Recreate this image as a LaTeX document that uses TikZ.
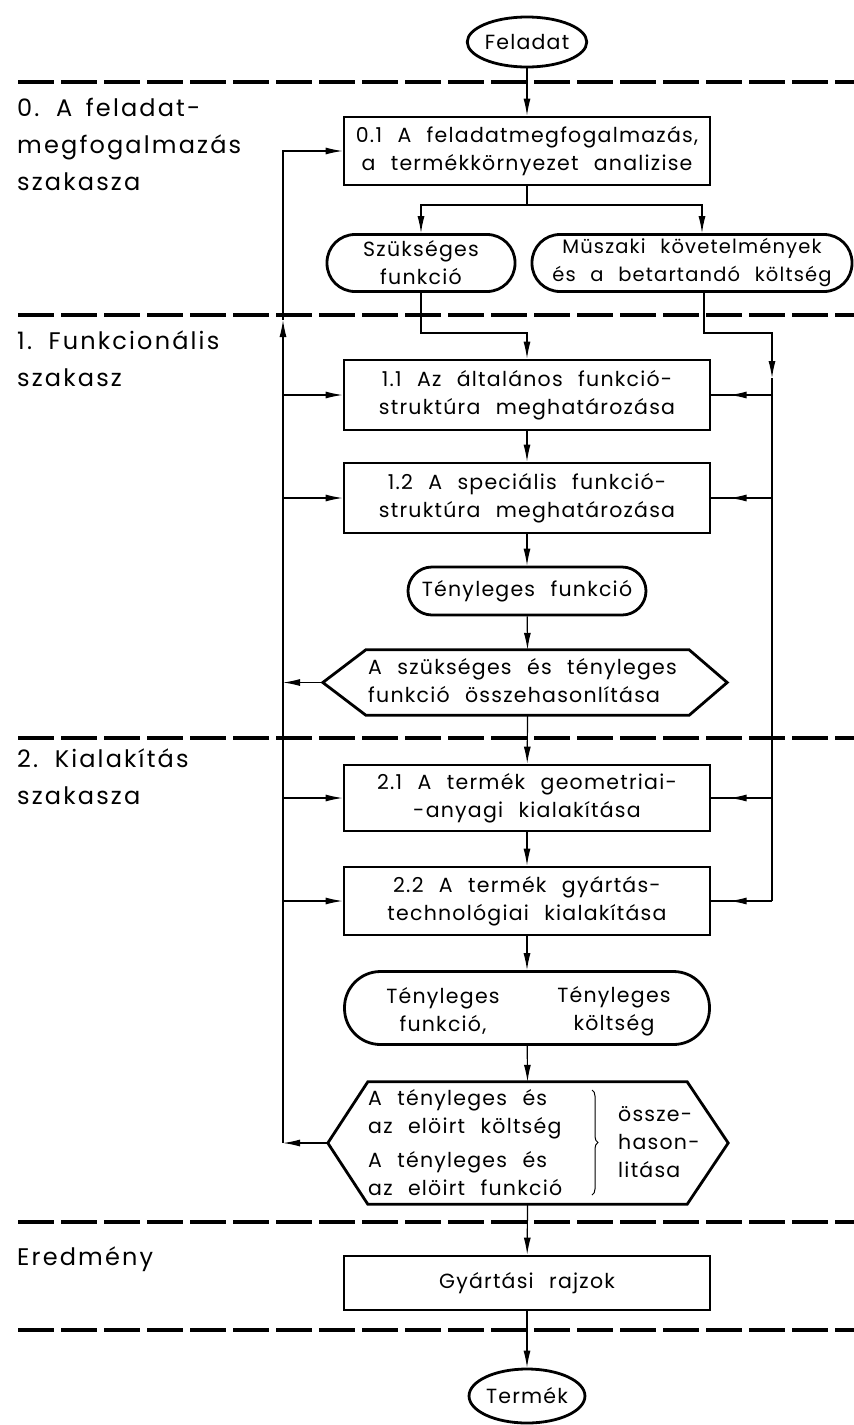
\documentclass[tikz,border=0pt]{standalone}
\usepackage{fontspec}
\setmainfont{Poppins}[LetterSpace=6,WordSpace=2.3]
\newfontfamily\lblfam{Poppins}[LetterSpace=9,WordSpace=1.6]
\usetikzlibrary{arrows.meta,decorations.pathreplacing,decorations.markings,shapes.geometric}
\newcommand\bxfont{\fontsize{20.5}{28}\selectfont}
\newcommand\lbfont{\lblfam\fontsize{24}{37}\selectfont}
\begin{document}
\begin{tikzpicture}[x=1pt,y=-1pt,
  conn/.style={line width=1.2pt},
  arr/.style={conn,-{Latex[length=17pt,width=7pt]}},
  midarr/.style={conn,postaction={decorate},decoration={markings,mark=at position 0.7 with {\arrow{Latex[length=17pt,width=7pt]}}}},
  boxs/.style={draw,line width=2.8pt,minimum width=366pt,inner sep=0pt,align=center,font=\bxfont},
  pills/.style={draw,line width=2.8pt,inner sep=0pt,align=center,font=\bxfont},
  ovals/.style={draw,ellipse,line width=2.8pt,inner sep=0pt,font=\bxfont},
  hexs/.style={inner sep=0pt},
  outl/.style={line width=2.8pt,line join=miter},
  sep/.style={line width=3.6pt,dash pattern=on 36pt off 7pt},
  lab/.style={anchor=north west,inner sep=0pt,align=left,font=\lbfont},
  txt/.style={inner sep=0pt,align=left,font=\bxfont},
]
\useasboundingbox (0,0) rectangle (854,1425);

% separators
\foreach \yy in {82,315,738,1222,1330}{\draw[sep] (18,\yy) -- (854,\yy);}

% phase labels
\node[lab] (lab0) at (17,98) {0. A feladat-\\megfogalmazás\\szakasza};
\node[lab] (lab1) at (17,331) {1. Funkcionális\\szakasz};
\node[lab] (lab2) at (17,749) {2. Kialakítás\\szakasza};
\node[lab] (lab3) at (17,1247) {Eredmény};

% nodes
\node[ovals,minimum width=108pt,minimum height=50pt] (feladat) at (527,42) {Feladat};
\node[boxs,minimum height=68pt] (box01) at (527,151) {0.1 A feladatmegfogalmazás,\\a termékkörnyezet analizise};
\node[pills,minimum width=188pt,minimum height=57pt,rounded corners=28pt] (szuk) at (421,263) {Szükséges\\funkció};
\node[pills,minimum width=320pt,minimum height=57pt,rounded corners=28pt,font=\fontsize{19.5}{28}\selectfont] (musz) at (692,263) {Müszaki követelmények\\és a betartandó költség};
\node[boxs,minimum height=70pt] (box11) at (527,395) {1.1 Az általános funkció-\\struktúra meghatározása};
\node[boxs,minimum height=70pt] (box12) at (527,498) {1.2 A speciális funkció-\\struktúra meghatározása};
\node[pills,minimum width=238pt,minimum height=48pt,rounded corners=24pt] (tf) at (527,591) {Tényleges funkció};
\node[hexs,minimum width=323pt,minimum height=65pt] (hex1) at (527.5,682.5) {};
\node[txt,anchor=west] (hex1t) at (368,681) {A szükséges és tényleges\\funkció összehasonlítása};
\node[boxs,minimum height=66pt] (box21) at (527,798) {2.1 A termék geometriai-\\-anyagi kialakítása};
\node[boxs,minimum height=68pt] (box22) at (527,901) {2.2 A termék gyártás-\\technológiai kialakítása};
\node[pills,minimum width=365pt,minimum height=73pt,rounded corners=36pt] (pill2) at (527,1008) {};
\node[txt,align=center] (p2a) at (443,1011) {Tényleges\\funkció,};
\node[txt,align=center] (p2b) at (614,1011) {Tényleges\\költség};
\node[hexs,minimum width=319pt,minimum height=122pt] (hex2) at (527.5,1143) {};
\node[txt,anchor=west] (hex2t) at (368,1143) {A tényleges és\\az elöirt költség\\[6pt]A tényleges és\\az elöirt funkció};
\node[txt,anchor=west] (hex2r) at (618,1142) {össze-\\hason-\\litása};
\draw[line width=1pt,decorate,decoration={brace,amplitude=6pt}] (592,1090) -- (592,1195);
\node[boxs,minimum height=54pt] (gyart) at (527,1283) {Gyártási rajzok};
\node[ovals,minimum width=112pt,minimum height=54pt] (termek) at (527,1396) {Termék};

% hexagon outlines
\coordinate (h1L) at ([xshift=-43pt]hex1.west);
\coordinate (h1R) at ([xshift=38pt]hex1.east);
\draw[outl] (hex1.north west) -- (hex1.north east) -- (h1R) -- (hex1.south east) -- (hex1.south west) -- (h1L) -- cycle;
\coordinate (h2L) at ([xshift=-40pt]hex2.west);
\coordinate (h2R) at ([xshift=41pt]hex2.east);
\draw[outl] (hex2.north west) -- (hex2.north east) -- (h2R) -- (hex2.south east) -- (hex2.south west) -- (h2L) -- cycle;

% main vertical flow
\draw[arr] (feladat) -- (box01);
\coordinate (br) at (527,205);
\coordinate (mtop) at (702,205);
\draw[conn] (box01.south) -- (br);
\draw[arr] (br) -| (szuk.north);
\draw[arr] (br) -- (mtop) -- ([xshift=10pt]musz.north);
\coordinate (j1) at (527,333);
\draw[arr] (szuk.south) |- (j1) -- (box11.north);
\draw[arr] (box11) -- (box12);
\draw[arr] (box12) -- (tf);
\draw[arr] (tf) -- (hex1.north);
\draw[arr] (hex1.south) -- (box21);
\draw[arr] (box21) -- (box22);
\draw[arr] (box22) -- (pill2);
\draw[arr] (pill2) -- (hex2.north);
\draw[arr] (hex2.south) -- (gyart);
\draw[arr] (gyart) -- (termek);

% right feed line
\coordinate (mbot) at ([xshift=12pt]musz.south);
\coordinate (r0) at (772,333);
\coordinate (rA) at (772,378);
\draw[arr] (mbot) |- (r0) -- (rA);
\draw[conn] (rA) -- (box22.east -| r0);
\draw[midarr] (box11.east -| r0) -- (box11.east);
\draw[midarr] (box12.east -| r0) -- (box12.east);
\draw[midarr] (box21.east -| r0) -- (box21.east);
\draw[midarr] (box22.east -| r0) -- (box22.east);

% left feedback line
\coordinate (lx) at (283,0);
\coordinate (lb) at (h2L -| lx);
\coordinate (lup) at (283,320);
\draw[arr] (h2L) -- (lb);
\draw[arr] (lb) -- (lup);
\draw[arr] (lup) |- (box01.west);
\draw[arr] (h1L) -- (h1L -| lx);
\draw[arr] (box11.west -| lx) -- (box11.west);
\draw[arr] (box12.west -| lx) -- (box12.west);
\draw[arr] (box21.west -| lx) -- (box21.west);
\draw[arr] (box22.west -| lx) -- (box22.west);
\end{tikzpicture}
\end{document}
